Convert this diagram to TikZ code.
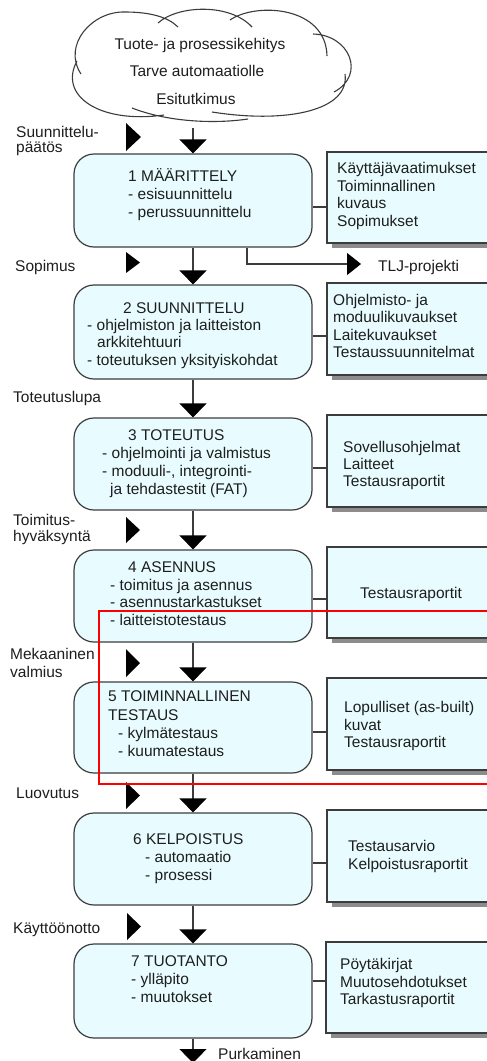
\documentclass[tikz,border=0pt]{standalone}
\usepackage{fontspec}
\setmainfont{Liberation Sans}
\usetikzlibrary{arrows.meta,shadows}
\definecolor{boxfill}{RGB}{232,252,255}
\definecolor{edge}{RGB}{60,60,60}
\definecolor{ink}{RGB}{30,30,30}
\begin{document}
\begin{tikzpicture}[x=1pt,y=-1pt,
 txt/.style={font=\fontsize{15.5}{17.8}\selectfont, text=ink, inner sep=0pt, anchor=base west},
 ctxt/.style={txt, anchor=base},
 phase/.style={draw=edge, line width=1.2pt, fill=boxfill, rounded corners=20pt, minimum width=238pt, inner sep=0pt},
 doc/.style={draw=edge, line width=1.2pt, fill=boxfill, minimum width=193pt, inner sep=0pt,
   drop shadow={shadow xshift=5pt, shadow yshift=-5pt, fill=black!45, opacity=1}},
 flow/.style={draw=edge, line width=1.2pt, -{Triangle[width=27pt,length=14pt,black]}},
 link/.style={draw=edge, line width=1.2pt},
 gate/.style={fill=black},
 redframe/.style={draw=red, line width=2pt}
]
\useasboundingbox (0,0) rectangle (487,1061);
\clip (0,0) rectangle (487,1061);
\fill[white] (0,0) rectangle (487,1061);

% cloud
\draw[edge, line width=1.1pt]
 (81,74) .. controls (62,45) and (92,11) .. (125,12) .. controls (150,12) and (168,17) .. (178,27)
 (158,23) .. controls (178,5) and (230,3) .. (252,27)
 (230,20) .. controls (256,2) and (326,6) .. (327,56)
 (313,34) .. controls (350,35) and (366,75) .. (334,92)
 (345,74) .. controls (350,110) and (288,124) .. (212,112)
 (248,119) .. controls (214,124) and (168,122) .. (132,108)
 (164,115) .. controls (100,124) and (58,96) .. (77,61);
\node[ctxt] (c1) at (200,49.5) {Tuote- ja prosessikehitys};
\node[ctxt] (c2) at (197,76.5) {Tarve automaatiolle};
\node[ctxt] (c3) at (196,104.5) {Esitutkimus};
\coordinate (cstart) at (193,128);

% phase boxes
\node[phase, minimum height=93pt] (b1) at (193,200.5) {};
\node[phase, minimum height=94pt] (b2) at (193,332) {};
\node[phase, minimum height=92pt] (b3) at (193,464) {};
\node[phase, minimum height=92pt] (b4) at (193,596) {};
\node[phase, minimum height=91pt] (b5) at (193,727.5) {};
\node[phase, minimum height=92pt] (b6) at (193,859) {};
\node[phase, minimum height=94pt] (b7) at (193,991) {};

% document boxes
\node[doc, minimum height=91pt] (r1) at (423.5,197.5) {};
\node[doc, minimum height=92pt] (r2) at (423.5,329) {};
\node[doc, minimum height=92pt] (r3) at (423.5,461) {};
\node[doc, minimum height=91pt] (r4) at (423.5,592.5) {};
\node[doc, minimum height=92pt] (r5) at (423.5,724) {};
\node[doc, minimum height=92pt] (r6) at (423.5,856) {};
\node[doc, minimum height=91pt] (r7) at (422.5,987.5) {};

% connectors box - documents
\coordinate (k1) at (0,207);
\coordinate (k2) at (0,336);
\coordinate (k3) at (0,468);
\coordinate (k4) at (0,599);
\coordinate (k5) at (0,732);
\coordinate (k6) at (0,863);
\coordinate (k7) at (0,981);
\draw[link] (b1.east |- k1) -- (r1.west |- k1);
\draw[link] (b2.east |- k2) -- (r2.west |- k2);
\draw[link] (b3.east |- k3) -- (r3.west |- k3);
\draw[link] (b4.east |- k4) -- (r4.west |- k4);
\draw[link] (b5.east |- k5) -- (r5.west |- k5);
\draw[link] (b6.east |- k6) -- (r6.west |- k6);
\draw[link] (b7.east |- k7) -- (r7.west |- k7);

% main flow
\coordinate (endp) at (193,1063);
\draw[flow] (cstart) -- (b1.north);
\draw[flow] (b1.south) -- (b2.north);
\draw[flow] (b2.south) -- (b3.north);
\draw[flow] (b3.south) -- (b4.north);
\draw[flow] (b4.south) -- (b5.north);
\draw[flow] (b5.south) -- (b6.north);
\draw[flow] (b6.south) -- (b7.north);
\draw[flow] (b7.south) -- (endp);

% TLJ branch
\coordinate (tljx) at (247,0);
\coordinate (tljend) at (361,264);
\draw[link, -{Triangle[width=22pt,length=14pt,black]}] (b1.south -| tljx) |- (tljend);
\node[txt] (tlj) at (378,271) {TLJ-projekti};

% gates (decision triangles)
\fill[gate] (126,123) -- (141,137) -- (126,151) -- cycle;
\fill[gate] (126,252) -- (140,262.5) -- (126,273) -- cycle;
\fill[gate] (126,517) -- (140,530) -- (126,543) -- cycle;
\fill[gate] (126,649) -- (140,663) -- (126,677) -- cycle;
\fill[gate] (126,782) -- (140,795.5) -- (126,809) -- cycle;
\fill[gate] (127,913) -- (141,926.5) -- (127,940) -- cycle;

% left labels
\node[txt] (l1a) at (16,137) {Suunnittelu-};
\node[txt] (l1b) at (16,152.5) {päätös};
\node[txt] (l2) at (15,271) {Sopimus};
\node[txt] (l3) at (13,402) {Toteutuslupa};
\node[txt] (l4a) at (13,525) {Toimitus-};
\node[txt] (l4b) at (13,541) {hyväksyntä};
\node[txt] (l5a) at (10,659) {Mekaaninen};
\node[txt] (l5b) at (10,677) {valmius};
\node[txt] (l6) at (16,798) {Luovutus};
\node[txt] (l7) at (13,933) {Käyttöönotto};
\node[txt] (l8) at (218,1059) {Purkaminen};

% phase texts
\node[txt] (p1a) at (128,181.5) {1 MÄÄRITTELY};
\node[txt] (p1b) at (128,199.3) {- esisuunnittelu};
\node[txt] (p1c) at (128,217.1) {- perussuunnittelu};

\node[txt] (p2a) at (123,313) {2 SUUNNITTELU};
\node[txt] (p2b) at (87,330.5) {- ohjelmiston ja laitteiston};
\node[txt] (p2c) at (97,347.5) {arkkitehtuuri};
\node[txt] (p2d) at (87,365) {- toteutuksen yksityiskohdat};

\node[txt] (p3a) at (128,440.5) {3 TOTEUTUS};
\node[txt] (p3b) at (102,458.3) {- ohjelmointi ja valmistus};
\node[txt] (p3c) at (102,476.1) {- moduuli-, integrointi-};
\node[txt] (p3d) at (110,494) {ja tehdastestit (FAT)};

\node[txt] (p4a) at (128,572.5) {4 ASENNUS};
\node[txt] (p4b) at (110,590) {- toimitus ja asennus};
\node[txt] (p4c) at (110,607.8) {- asennustarkastukset};
\node[txt] (p4d) at (110,625.3) {- laitteistotestaus};

\node[txt] (p5a) at (108,701.7) {5 TOIMINNALLINEN};
\node[txt] (p5b) at (108,720) {TESTAUS};
\node[txt] (p5c) at (118,738.3) {- kylmätestaus};
\node[txt] (p5d) at (118,756.3) {- kuumatestaus};

\node[txt] (p6a) at (133,844) {6 KELPOISTUS};
\node[txt] (p6b) at (145,862.3) {- automaatio};
\node[txt] (p6c) at (145,880.3) {- prosessi};

\node[txt] (p7a) at (131,966) {7 TUOTANTO};
\node[txt] (p7b) at (131,984.3) {- ylläpito};
\node[txt] (p7c) at (131,1002.3) {- muutokset};

% document texts
\node[txt] (d1a) at (337,173.5) {Käyttäjävaatimukset};
\node[txt] (d1b) at (337,191) {Toiminnallinen};
\node[txt] (d1c) at (337,208.5) {kuvaus};
\node[txt] (d1d) at (337,226) {Sopimukset};

\node[txt] (d2a) at (333,305.5) {Ohjelmisto- ja};
\node[txt] (d2b) at (333,322.8) {moduulikuvaukset};
\node[txt] (d2c) at (333,340.1) {Laitekuvaukset};
\node[txt] (d2d) at (333,357.4) {Testaussuunnitelmat};

\node[txt] (d3a) at (343,452.5) {Sovellusohjelmat};
\node[txt] (d3b) at (343,469.5) {Laitteet};
\node[txt] (d3c) at (343,486.5) {Testausraportit};

\node[txt] (d4a) at (360,598.5) {Testausraportit};

\node[txt] (d5a) at (344,712.5) {Lopulliset (as-built)};
\node[txt] (d5b) at (344,730) {kuvat};
\node[txt] (d5c) at (344,747.5) {Testausraportit};

\node[txt] (d6a) at (348,851.5) {Testausarvio};
\node[txt] (d6b) at (348,869.5) {Kelpoistusraportit};

\node[txt] (d7a) at (340,969.5) {Pöytäkirjat};
\node[txt] (d7b) at (340,987) {Muutosehdotukset};
\node[txt] (d7c) at (340,1004.5) {Tarkastusraportit};

% highlight frame
\draw[redframe] (99,611) rectangle (600,784);
\end{tikzpicture}
\end{document}
